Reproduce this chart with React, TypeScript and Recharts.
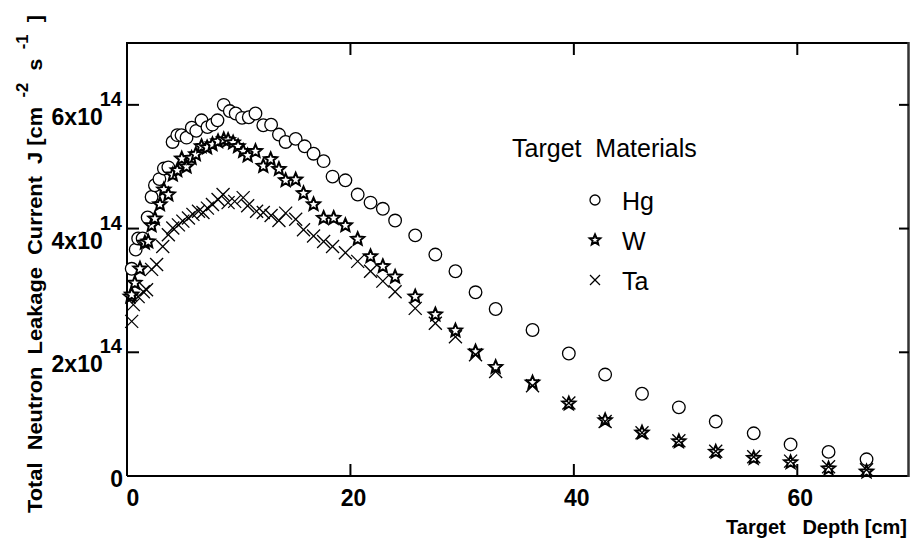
import { Scatter, ScatterChart, XAxis, YAxis } from 'recharts';

// depth [cm] and current [x1e14 cm^-2 s^-1]
const hgDepth = [0.42, 0.78, 1.0, 1.4, 1.85, 2.2, 2.5, 2.9, 3.3, 3.7, 4.08, 4.5, 4.88, 5.33, 5.8, 6.2, 6.67, 7.2, 7.65, 8.1, 8.66, 9.2, 9.73, 10.3, 10.9, 11.5, 12.2, 12.9, 13.6, 14.2, 15.1, 15.9, 16.7, 17.6, 18.4, 19.55, 20.65, 21.8, 22.9, 24.0, 25.8, 27.6, 29.4, 31.2, 33.0, 36.3, 39.55, 42.8, 46.1, 49.4, 52.7, 56.1, 59.4, 62.8, 66.2];
const hgCurrent = [3.35, 3.66, 3.84, 3.84, 4.18, 4.51, 4.7, 4.8, 4.97, 4.99, 5.4, 5.51, 5.51, 5.47, 5.63, 5.58, 5.75, 5.64, 5.68, 5.75, 6.0, 5.9, 5.86, 5.79, 5.8, 5.86, 5.67, 5.68, 5.52, 5.4, 5.45, 5.33, 5.21, 5.09, 4.84, 4.78, 4.55, 4.42, 4.32, 4.13, 3.89, 3.58, 3.31, 2.97, 2.7, 2.36, 1.98, 1.64, 1.33, 1.11, 0.88, 0.69, 0.51, 0.39, 0.27];

const wDepth = [0.3, 0.42, 0.7, 1.16, 1.6, 1.9, 2.2, 2.5, 2.95, 3.3, 3.7, 4.1, 4.5, 4.9, 5.33, 5.78, 6.16, 6.67, 7.17, 7.65, 8.15, 8.66, 9.05, 9.5, 9.94, 10.4, 10.8, 11.5, 12.2, 12.86, 13.6, 14.2, 15.1, 15.8, 16.7, 17.6, 18.5, 19.55, 20.65, 21.8, 22.9, 24.0, 25.8, 27.6, 29.4, 31.2, 33.0, 36.3, 39.55, 42.8, 46.1, 49.4, 52.7, 56.1, 59.4, 62.8, 66.2];
const wCurrent = [2.9, 2.93, 3.12, 3.35, 3.77, 3.79, 4.05, 4.16, 4.39, 4.63, 4.55, 4.87, 4.94, 5.13, 5.0, 5.14, 5.2, 5.33, 5.31, 5.36, 5.41, 5.44, 5.43, 5.39, 5.33, 5.25, 5.18, 5.25, 5.01, 5.12, 4.96, 4.78, 4.79, 4.57, 4.39, 4.17, 4.17, 4.05, 3.83, 3.55, 3.39, 3.22, 2.9, 2.61, 2.35, 2.01, 1.76, 1.51, 1.17, 0.9, 0.7, 0.56, 0.39, 0.29, 0.22, 0.12, 0.07];

const taDepth = [0.42, 0.57, 1.0, 1.46, 1.75, 2.2, 2.65, 3.2, 3.7, 4.1, 4.6, 5.0, 5.5, 5.9, 6.4, 6.8, 7.2, 7.65, 8.15, 8.6, 9.05, 9.64, 10.4, 10.8, 11.6, 12.2, 12.9, 13.6, 14.2, 15.1, 15.8, 16.7, 17.6, 18.4, 19.55, 20.65, 21.8, 22.9, 24.0, 25.8, 27.6, 29.4, 31.2, 33.0, 36.3, 39.55, 42.8, 46.1, 49.4, 52.7, 56.1, 59.4, 62.8, 66.2];
const taCurrent = [2.5, 2.77, 2.9, 2.98, 3.01, 3.34, 3.42, 3.71, 3.9, 4.01, 4.06, 4.12, 4.17, 4.23, 4.28, 4.26, 4.33, 4.39, 4.47, 4.55, 4.42, 4.44, 4.5, 4.37, 4.28, 4.26, 4.21, 4.13, 4.25, 4.15, 3.98, 3.88, 3.79, 3.71, 3.61, 3.47, 3.31, 3.15, 2.98, 2.71, 2.47, 2.25, 1.96, 1.69, 1.46, 1.18, 0.88, 0.7, 0.57, 0.4, 0.31, 0.24, 0.15, 0.1];

const xTicks = [0, 20, 40, 60];
const yTicks = [0, 2, 4, 6];
const xMax = 70;
const yMax = 7;
const yExponent = '14';
const legendTitle = 'Target  Materials';
const materials = ['Hg', 'W', 'Ta'];

const zip = (xs: number[], ys: number[]) => xs.map((x, i) => ({ x, y: ys[i] }));
const hgData = zip(hgDepth, hgCurrent);
const wData = zip(wDepth, wCurrent);
const taData = zip(taDepth, taCurrent);

const W = 911;
const H = 541;
const M = { top: 43, right: 2, bottom: 35, left: 67 };
const Y_AXIS_W = 60;
const X_AXIS_H = 30;
// plot box, same numbers recharts uses for its offsets
const PL = M.left + Y_AXIS_W;
const PR = W - M.right;
const PT = M.top;
const PB = H - M.bottom - X_AXIS_H;

const FONT = "'Liberation Sans', Arial, sans-serif";
const TICK_LEN = 12;

function Circle({ cx, cy, r = 6.3 }: any) {
  return <circle cx={cx} cy={cy} r={r} fill="#fff" stroke="#000" strokeWidth={1.3} />;
}

function Star({ cx, cy, r = 6.8 }: any) {
  const pts: string[] = [];
  for (let i = 0; i < 10; i++) {
    const rad = i % 2 === 0 ? r : r * 0.45;
    const a = -Math.PI / 2 + (i * Math.PI) / 5;
    pts.push(`${cx + rad * Math.cos(a)},${cy + rad * Math.sin(a)}`);
  }
  return <polygon points={pts.join(' ')} fill="#fff" stroke="#000" strokeWidth={2} strokeLinejoin="miter" />;
}

function Cross({ cx, cy, r = 6.5 }: any) {
  return (
    <g stroke="#000" strokeWidth={1.3}>
      <line x1={cx - r} y1={cy - r} x2={cx + r} y2={cy + r} />
      <line x1={cx - r} y1={cy + r} x2={cx + r} y2={cy - r} />
    </g>
  );
}

function BottomTick({ x, y, payload }: any) {
  const v = payload.value;
  return (
    <g>
      {v !== 0 && <line x1={x} y1={y} x2={x} y2={y - TICK_LEN} stroke="#000" strokeWidth={2} />}
      <text x={x + (v === 0 ? 6 : 3)} y={y + 30} textAnchor="middle" fontFamily={FONT} fontWeight="bold" fontSize={23} fill="#000">
        {v}
      </text>
    </g>
  );
}

function LeftTick({ x, y, payload }: any) {
  const v = payload.value;
  return (
    <g>
      {v !== 0 && <line x1={x} y1={y} x2={x + TICK_LEN} y2={y} stroke="#000" strokeWidth={2} />}
      {v === 0 ? (
        <text x={x - 4} y={y + 11} textAnchor="end" fontFamily={FONT} fontWeight="bold" fontSize={23} fill="#000">
          0
        </text>
      ) : (
        <text x={x - 5} y={y + 20} textAnchor="end" fontFamily={FONT} fontWeight="bold" fontSize={23} fill="#000">
          {`${v}x10`}
          <tspan dx={-3} dy={-19} fontSize={20}>{yExponent}</tspan>
        </text>
      )}
    </g>
  );
}

const sx = (v: number) => PL + (v / xMax) * (PR - PL);
const sy = (v: number) => PB - (v / yMax) * (PB - PT);

export default function App() {
  return (
    <div style={{ position: 'absolute', left: 0, top: 0, width: W, height: H, background: '#fff' }}>
      <ScatterChart width={W} height={H} margin={M}>
        <XAxis
          type="number"
          dataKey="x"
          domain={[0, xMax]}
          ticks={xTicks}
          height={X_AXIS_H}
          tickSize={0}
          tickMargin={0}
          tickLine={false}
          axisLine={{ stroke: '#000', strokeWidth: 2 }}
          tick={<BottomTick />}
          interval={0}
        />
        <YAxis
          type="number"
          dataKey="y"
          domain={[0, yMax]}
          ticks={yTicks}
          width={Y_AXIS_W}
          tickSize={0}
          tickMargin={0}
          tickLine={false}
          axisLine={{ stroke: '#000', strokeWidth: 2 }}
          tick={<LeftTick />}
          interval={0}
        />
        <Scatter name="Hg" data={hgData} shape={<Circle />} isAnimationActive={false} />
        <Scatter name="W" data={wData} shape={<Star />} isAnimationActive={false} />
        <Scatter name="Ta" data={taData} shape={<Cross />} isAnimationActive={false} />
      </ScatterChart>

      {/* top/right frame, axis titles and legend */}
      <svg width={W} height={H} style={{ position: 'absolute', left: 0, top: 0, pointerEvents: 'none' }}>
        <line x1={PL - 1} y1={PT} x2={PR} y2={PT} stroke="#000" strokeWidth={2} />
        <line x1={PR - 0.5} y1={PT - 1} x2={PR - 0.5} y2={PB + 1} stroke="#333" strokeWidth={2.5} />
        {xTicks.filter((t) => t > 0).map((t) => (
          <line key={`xt${t}`} x1={sx(t)} y1={PT} x2={sx(t)} y2={PT + TICK_LEN} stroke="#000" strokeWidth={2} />
        ))}
        {yTicks.filter((t) => t > 0).map((t) => (
          <line key={`yt${t}`} x1={PR} y1={sy(t)} x2={PR - 10} y2={sy(t)} stroke="#000" strokeWidth={2} />
        ))}
        <text
          transform="translate(42, 513) rotate(-90)"
          textAnchor="start"
          fontFamily={FONT}
          fontWeight="bold"
          fontSize={21}
          fill="#000"
          textLength={498}
          lengthAdjust="spacingAndGlyphs"
          style={{ whiteSpace: 'pre' }}
        >
          {'Total  Neutron  Leakage  Current  J [cm'}
          <tspan dy={-14} fontSize={16}>{'  -2'}</tspan>
          <tspan dy={14}>{'  s'}</tspan>
          <tspan dy={-14} fontSize={16}>{'  -1'}</tspan>
          <tspan dy={14}>{'  ]'}</tspan>
        </text>
        <text
          x={726}
          y={534}
          fontFamily={FONT}
          fontWeight="bold"
          fontSize={21}
          fill="#000"
          textLength={181}
          lengthAdjust="spacingAndGlyphs"
          style={{ whiteSpace: 'pre' }}
        >
          {'Target   Depth [cm]'}
        </text>
        <text x={512} y={157} fontFamily={FONT} fontSize={25} fill="#000" style={{ whiteSpace: 'pre' }}>
          {legendTitle}
        </text>
        {materials.map((m, i) => {
          const cy = 200 + i * 40;
          return (
            <g key={m}>
              {i === 0 && <Circle cx={595} cy={cy} r={5} />}
              {i === 1 && <Star cx={595} cy={cy} r={5.5} />}
              {i === 2 && <Cross cx={595} cy={cy} r={5} />}
              <text x={622} y={cy + 10} fontFamily={FONT} fontSize={25} fill="#000">
                {m}
              </text>
            </g>
          );
        })}
      </svg>
    </div>
  );
}
